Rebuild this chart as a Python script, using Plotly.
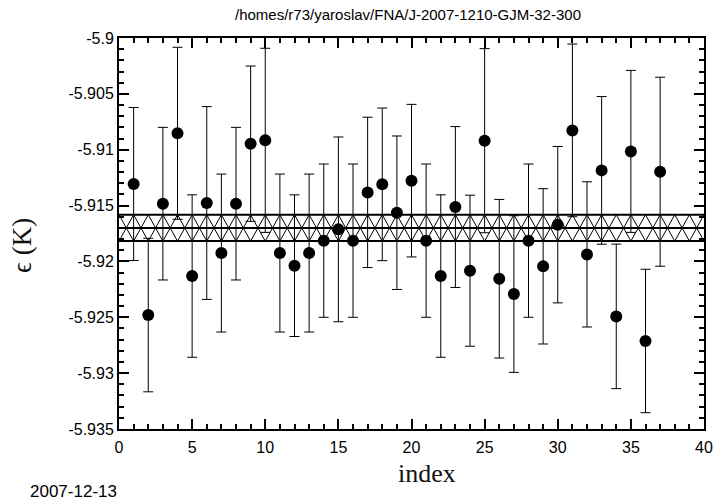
import plotly.graph_objects as go

# ---- data ----
index = list(range(1, 38))
eps = [-5.91307, -5.92480, -5.91483, -5.90853, -5.92131, -5.91477, -5.91925,
       -5.91483, -5.90946, -5.90916, -5.91925, -5.92038, -5.91925, -5.91814,
       -5.91713, -5.91814, -5.91382, -5.91310, -5.91564, -5.91277, -5.91814,
       -5.92131, -5.91513, -5.92083, -5.90919, -5.92155, -5.92292, -5.91814,
       -5.92044, -5.91671, -5.90827, -5.91937, -5.91185, -5.92492, -5.91015,
       -5.92712, -5.91197]
err = [0.00685, 0.00687, 0.00683, 0.00770, 0.00727, 0.00863, 0.00707,
       0.00683, 0.00695, 0.00824, 0.00707, 0.00634, 0.00707, 0.00686,
       0.00827, 0.00686, 0.00673, 0.00683, 0.00687, 0.00683, 0.00686,
       0.00727, 0.00720, 0.00676, 0.00824, 0.00710, 0.00701, 0.00686,
       0.00695, 0.00700, 0.00773, 0.00650, 0.00661, 0.00647, 0.00725,
       0.00642, 0.00846]
band_mean = -5.91700
band_half = 0.00118

y_tickvals = [-5.935, -5.93, -5.925, -5.92, -5.915, -5.91, -5.905, -5.9]
y_ticktext = ["-5.935", "-5.93", "-5.925", "-5.92", "-5.915", "-5.91", "-5.905", "-5.9"]
x_tickvals = [0, 5, 10, 15, 20, 25, 30, 35, 40]
x_range = [0, 40]
y_range = [-5.935, -5.9]

title_text = "/homes/r73/yaroslav/FNA/J-2007-1210-GJM-32-300"
date_text = "2007-12-13"

top = band_mean + band_half
bot = band_mean - band_half

fig = go.Figure()

# hatch diagonals
hx, hy = [], []
for k in range(x_range[0], x_range[1]):
    hx += [k, k + 1, None, k, k + 1, None]
    hy += [top, bot, None, bot, top, None]
fig.add_trace(go.Scatter(x=hx, y=hy, mode="lines",
                         line=dict(color="black", width=1),
                         hoverinfo="skip", showlegend=False))
# band lines
for yv in (top, band_mean, bot):
    fig.add_trace(go.Scatter(x=x_range, y=[yv, yv], mode="lines",
                             line=dict(color="black", width=2),
                             hoverinfo="skip", showlegend=False))

fig.add_trace(go.Scatter(
    x=index, y=eps, mode="markers",
    marker=dict(color="black", size=12),
    error_y=dict(type="data", array=err, visible=True,
                 color="black", thickness=1, width=5),
    showlegend=False))

axis_font = dict(family="Liberation Sans, Arial, sans-serif", size=16, color="black")

fig.update_xaxes(range=x_range, tickvals=x_tickvals, ticks="inside", ticklen=10,
                 tickwidth=1.5, tickcolor="black", ticklabelstandoff=3,
                 minor=dict(dtick=1, ticks="inside", ticklen=5, tickcolor="black", tickwidth=1.5),
                 showline=True, linecolor="black", linewidth=2, mirror="allticks",
                 showgrid=False, zeroline=False, tickfont=axis_font)
fig.update_yaxes(range=y_range, tickvals=y_tickvals, ticktext=y_ticktext,
                 ticks="inside", ticklen=10, tickwidth=1.5, tickcolor="black",
                 minor=dict(dtick=0.001, ticks="inside", ticklen=5, tickcolor="black", tickwidth=1.5),
                 showline=True, linecolor="black", linewidth=2, mirror="allticks",
                 showgrid=False, zeroline=False, tickfont=axis_font)

fig.update_layout(
    width=725, height=502,
    margin=dict(l=118.5, r=14, t=38, b=73),
    paper_bgcolor="white", plot_bgcolor="white",
    annotations=[
        dict(text=title_text, xref="paper", yref="paper", x=0.494, y=1.0,
             yshift=24, xanchor="center", yanchor="middle", showarrow=False,
             font=dict(family="Liberation Sans, Arial, sans-serif", size=15, color="black")),
        dict(text="index", xref="paper", yref="paper", x=0.526, y=0,
             yshift=-44, xanchor="center", yanchor="middle", showarrow=False,
             font=dict(family="Liberation Serif, DejaVu Serif, serif", size=26, color="#111111")),
        dict(text="ϵ (K)", xref="paper", yref="paper", x=0, xshift=-97, y=0.468,
             xanchor="center", yanchor="middle", showarrow=False, textangle=-90,
             font=dict(family="Liberation Serif, DejaVu Serif, serif", size=27, color="#111111")),
        dict(text=date_text, xref="paper", yref="paper", x=0, xshift=-91, y=0,
             yshift=-62, xanchor="left", yanchor="middle", showarrow=False,
             font=dict(family="Liberation Sans, Arial, sans-serif", size=17, color="black")),
    ],
)

fig.write_html("out.html")
